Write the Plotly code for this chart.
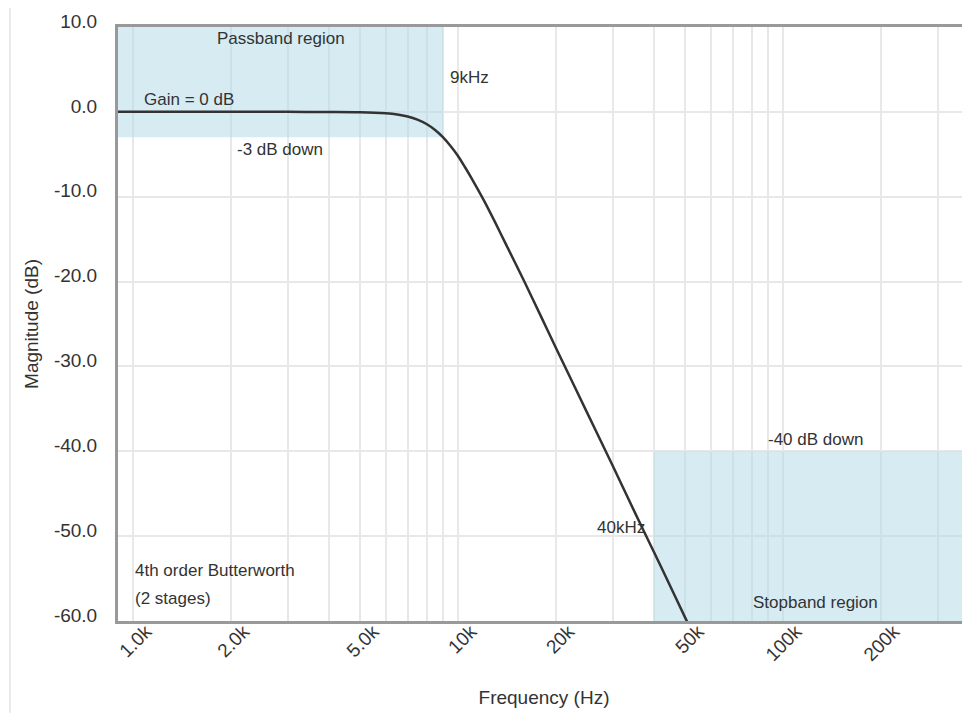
import math
import plotly.graph_objects as go

# Frequency response (Hz, dB)
freq_hz = [800, 1000, 2000, 3000, 4000, 5000, 6000, 6500, 7000, 7500, 8000, 8500, 9000,
           9500, 10000, 10500, 11000, 12000, 13000, 14000, 16000, 18000, 20000, 25000,
           30000, 35000, 40000, 45000, 50000, 55000]
gain_db = [0.0, 0.0, 0.0, 0.0, -0.01, -0.04, -0.17, -0.31, -0.55, -0.91, -1.43, -2.13,
           -3.0, -4.05, -5.2, -6.5, -7.8, -10.4, -13.0, -15.5, -20.0, -24.1, -27.8,
           -35.5, -41.8, -47.2, -51.8, -55.9, -59.6, -62.9]

x_tick_vals = [1000, 2000, 5000, 10000, 20000, 50000, 100000, 200000]
x_tick_text = ["1.0k", "2.0k", "5.0k", "10k", "20k", "50k", "100k", "200k"]
x_grid_vals = [m * d for d in (1000, 10000, 100000) for m in range(1, 10)]

y_tick_vals = [10, 0, -10, -20, -30, -40, -50, -60]
y_tick_text = ["10.0", "0.0", "-10.0", "-20.0", "-30.0", "-40.0", "-50.0", "-60.0"]

passband_edge_hz = 9000
passband_top_db = 10
passband_bottom_db = -3
stopband_edge_hz = 40000
stopband_top_db = -40
stopband_bottom_db = -60

FONT = "Liberation Sans, Arial, sans-serif"
TXT = "#333333"

fig = go.Figure()
fig.add_trace(go.Scatter(x=freq_hz, y=gain_db, mode="lines",
                         line=dict(color="#333333", width=2.5, shape="spline", smoothing=0.8),
                         hoverinfo="skip", showlegend=False))

band_fill = "rgba(173,216,230,0.5)"
fig.add_shape(type="rect", xref="x", yref="y", x0=100, x1=passband_edge_hz,
              y0=passband_bottom_db, y1=passband_top_db, line_width=0,
              fillcolor=band_fill, layer="between")
fig.add_shape(type="rect", xref="x", yref="y", x0=stopband_edge_hz, x1=10000000,
              y0=stopband_bottom_db, y1=stopband_top_db, line_width=0,
              fillcolor=band_fill, layer="between")
# thin container line at far left
fig.add_shape(type="line", xref="paper", yref="paper", x0=-0.1268, x1=-0.1268,
              y0=-0.2, y1=1.1, line=dict(color="#e3e3e3", width=1.5))


def lx(f):
    return math.log10(f)


ann = [
    ("Passband region", lx(2844), 8.6, "center"),
    ("9kHz", lx(9310), 4.0, "left"),
    ("Gain = 0 dB", lx(1066), 1.5, "left"),
    ("-3 dB down", lx(2831), -4.4, "center"),
    ("-40 dB down", lx(126000), -38.6, "center"),
    ("40kHz", lx(38100), -49.0, "right"),
    ("Stopband region", lx(126000), -57.8, "center"),
    ("4th order Butterworth", lx(1000), -54.0, "left"),
    ("(2 stages)", lx(1000), -57.3, "left"),
]
for t, x, y, xa in ann:
    fig.add_annotation(text=t, x=x, y=y, xref="x", yref="y", xanchor=xa,
                       yanchor="middle", showarrow=False,
                       font=dict(family=FONT, size=17, color=TXT))

x_text_full = [x_tick_text[x_tick_vals.index(v)] if v in x_tick_vals else "" for v in x_grid_vals]

fig.update_xaxes(type="log", range=[2.9538, 5.5754],
                 tickmode="array", tickvals=x_grid_vals, ticktext=x_text_full,
                 tickangle=-45, tickfont=dict(family=FONT, size=19, color=TXT),
                 showgrid=True, gridcolor="#e8e8e8", gridwidth=2,
                 showline=True, linecolor="#999999", linewidth=3, mirror=True,
                 ticks="", zeroline=False, ticklabelstandoff=-11, ticklabelshift=13,
                 title=dict(text="Frequency (Hz)", font=dict(family=FONT, size=19, color=TXT),
                            standoff=27))
fig.update_yaxes(range=[-60, 10], tickmode="array", tickvals=y_tick_vals,
                 ticktext=y_tick_text,
                 tickfont=dict(family=FONT, size=19, color=TXT),
                 showgrid=True, gridcolor="#e8e8e8", gridwidth=2,
                 showline=True, linecolor="#999999", linewidth=3, mirror=False,
                 ticks="", zeroline=False, ticklabelstandoff=14, ticklabelshift=-6,
                 title=dict(text="Magnitude (dB)", font=dict(family=FONT, size=19, color=TXT),
                            standoff=11))

fig.update_layout(width=962, height=705,
                  margin=dict(l=110, r=0, t=19, b=92),
                  paper_bgcolor="white", plot_bgcolor="white",
                  font=dict(family=FONT, color=TXT), showlegend=False)

fig.write_html("out.html")
